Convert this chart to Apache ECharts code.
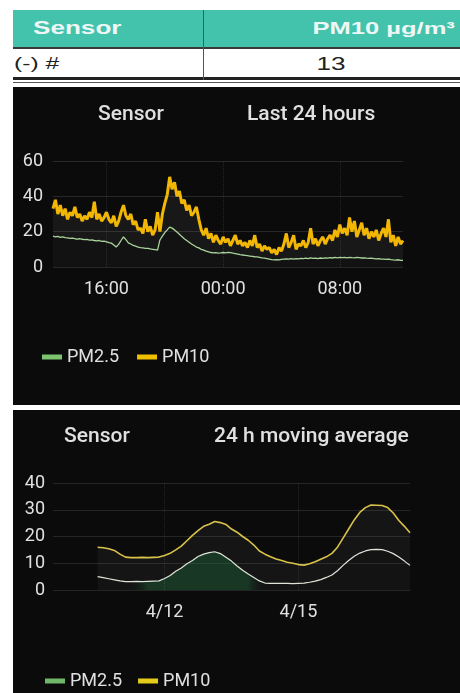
<!DOCTYPE html>
<html><head><meta charset="utf-8">
<script src="https://cdn.jsdelivr.net/npm/echarts@6.0.0/dist/echarts.min.js"></script>
<style>
html,body{margin:0;padding:0;background:#fff;width:460px;height:693px;overflow:hidden;font-family:"Liberation Sans",Arial,sans-serif}
.abs{position:absolute}
.sx{display:inline-block;transform:scaleX(1.45);}
#hdr{left:13px;top:10px;width:447px;height:37px;background:#43c2ac;border-bottom:2px solid #3a3a3a}
#hdr .l{position:absolute;left:20px;top:0;line-height:37px;font-size:18px;font-weight:bold;color:#eef7f5}
#hdr .l .sx{transform-origin:left center}
#hdr .r{position:absolute;right:5px;top:0;line-height:37px;font-size:17px;font-weight:bold;color:#eef7f5}
#hdr .r .sx{transform-origin:right center;transform:scaleX(1.5)}
#row{left:13px;top:49px;width:447px;height:28px;background:#fff;border-bottom:3px solid #222}
#row .l{position:absolute;left:1px;top:0;line-height:30px;font-size:17px;color:#222}
#row .l .sx{transform-origin:left center}
#row .r{position:absolute;left:190px;width:257px;text-align:center;top:0;line-height:30px;font-size:18px;color:#222}
#line2{left:13px;top:82px;width:447px;height:1px;background:#555}
#vdiv{left:203px;top:10px;width:1px;height:70px;background:#555}
#p1{left:13px;top:87px;width:447px;height:318px;background:#0b0b0b}
#p2{left:13px;top:410px;width:447px;height:283px;background:#0b0b0b}
</style></head>
<body>
<div id="hdr" class="abs"><span class="l"><span class="sx">Sensor</span></span><span class="r"><span class="sx">PM10 µg/m³</span></span></div>
<div id="row" class="abs"><span class="l"><span class="sx">(-) #</span></span><span class="r"><span class="sx">13</span></span></div>
<div id="line2" class="abs"></div>
<div id="vdiv" class="abs"></div>
<div id="p1" class="abs"></div>
<div id="p2" class="abs"></div>
<script>
// ---- Last 24 hours (hours since 00:00 of first day, 10-minute samples) ----
const dayStartHour = 12 + 20 / 60;
const dayStepHour = 1 / 6;
const dayTicks = [16, 24, 32];
const dayPM10 = [
 33,38,30,35,29,33, 27,31,29,34,28,30, 26,29,27,31,28,37, 27,30,26,28,31,27,
 25,29,23,26,31,35, 29,27,30,24,26,21, 22,19,27,20,23,18, 21,31,20,30,36,41,
 51,44,48,40,43,36, 38,32,35,29,31,34, 27,21,18,22,16,19, 14,18,15,13,17,14,
 16,12,15,18,13,15, 12,14,11,15,12,18, 11,13,9,12,10,11, 8,10,7,11,9,13,
 19,11,14,18,10,13, 12,15,11,14,22,13, 16,12,15,17,13,16, 18,15,21,17,24,19,
 22,18,28,20,26,17, 21,25,18,22,16,20, 17,21,15,19,22,17, 27,14,18,12,17,13, 15
];
const dayPM25 = [
 17.5,17,17.3,16.8,17,16.6, 16.5,16.2,16.4,16,15.8,16, 15.7,15.5,15.6,15.2,15.3,15, 14.8,15,14.5,14.6,14.2,13.8,
 13.5,12.5,11.3,12.8,15,17, 15.5,13.7,13,12.2,11.8,11.3, 11,10.8,10.5,10.6,10.2,10, 9.8,9.6,15.3,17.5,19.5,21,
 22.6,22,21,19.8,18.5,17.2, 16,15,14,13,12.2,11.3, 10.8,10,9.5,9,8.6,8.2, 8,8.1,7.9,8,8.2,8,
 8.3,8.1,7.8,7.6,7.3,7, 6.8,6.6,6.4,6.2,6,5.8, 5.7,5.5,5.2,5,4.8,4.5, 4.2,4,4.1,4,4.3,4.5,
 4.6,4.4,4.7,4.5,4.8,4.6, 4.9,4.7,5,4.8,5.2,4.9, 5,4.8,5.1,4.9,5.2,5, 5.3,5.1,5.4,5.2,5.5,5.3,
 5.4,5.2,5.5,5.3,5.2,5.4, 5.3,5.1,5.2,5,4.9,5, 4.8,4.6,4.7,4.5,4.4,4.3, 4.5,4.2,4,3.9,4.1,3.8, 3.7
];
// ---- 24 h moving average (day of April, 3-hour samples) ----
const avgStartDay = 10.5;
const avgStepDay = 0.125;
const avgTicks = [12, 15];
const avgPM10 = [
 16.0,15.8,15.4,14.8,13.4,12.3,12.1,12.1,12.2,12.1,12.2,12.3,
 12.9,13.7,15.0,16.4,18.4,20.4,22.2,23.8,24.6,25.6,25.2,24.5,
 22.8,21.6,20.0,18.6,16.8,14.6,13.4,12.4,11.6,11.0,10.4,10.0,
 9.5,9.3,9.8,10.6,11.5,12.4,13.7,16.0,19.4,22.8,26.2,29.0,
 30.8,31.8,31.7,31.6,30.8,28.8,26.0,23.8,21.4
];
const avgPM25 = [
 5.0,4.6,4.2,3.8,3.4,3.1,3.1,3.2,3.1,3.2,3.3,3.4,
 4.3,5.4,7.0,8.2,9.8,11.0,12.5,13.4,14.0,14.3,13.6,12.2,
 10.8,9.0,7.4,6.0,4.7,3.4,2.6,2.5,2.5,2.5,2.5,2.4,
 2.5,2.6,2.9,3.3,3.9,4.7,5.6,7.2,9.2,11.0,12.6,13.8,
 14.6,15.1,15.2,15.1,14.5,13.6,12.3,10.8,9.2
];

function pairs(start, step, vals){ return vals.map((v,i)=>[start+i*step, v]); }
const txt = '#e0e0e0';
const font = 'Roboto';
const titleStyle = {color:txt, fontSize:21, fontWeight:500, fontFamily:font};

function vLines(ticks){
  return {silent:true, symbol:'none', label:{show:false},
    lineStyle:{color:'rgba(255,255,255,0.11)', type:'dotted', width:1},
    data: ticks.map(t=>({xAxis:t}))};
}

const c1 = echarts.init(document.getElementById('p1'));
c1.setOption({
  backgroundColor:'#0b0b0b', animation:false,
  textStyle:{fontFamily:font},
  title:[
    {text:'Sensor', left:80, top:12, textStyle:titleStyle},
    {text:'Last 24 hours', left:229, top:12, textStyle:titleStyle}
  ],
  legend:{left:24, top:256, itemWidth:20, itemHeight:5, itemGap:18, icon:'rect',
    textStyle:{color:txt, fontSize:18, fontFamily:font}, data:['PM2.5','PM10']},
  grid:{left:40, right:57, top:74, height:106},
  xAxis:{type:'value', min:dayStartHour, max:dayStartHour+24,
    axisLine:{show:false}, axisTick:{show:false}, splitLine:{show:false},
    axisLabel:{customValues:dayTicks, color:txt, fontSize:18, margin:13, fontFamily:font,
      formatter:v=>String(Math.round(v)%24).padStart(2,'0')+':00'}},
  yAxis:{type:'value', min:0, max:60, interval:20,
    axisLine:{show:false}, axisTick:{show:false},
    axisLabel:{color:txt, fontSize:18, margin:10, fontFamily:font},
    splitLine:{lineStyle:{color:'rgba(255,255,255,0.12)'}}},
  series:[
    {name:'PM10', type:'line', data:pairs(dayStartHour, dayStepHour, dayPM10), showSymbol:false, z:2,
      itemStyle:{color:'#f0c000'}, lineStyle:{color:'#f2b705', width:3},
      areaStyle:{color:'rgba(255,255,255,0.08)'}, markLine:vLines(dayTicks)},
    {name:'PM2.5', type:'line', data:pairs(dayStartHour, dayStepHour, dayPM25), showSymbol:false, z:3,
      itemStyle:{color:'#7cc46e'}, lineStyle:{color:'#a8d49a', width:1.3},
      areaStyle:{color:'rgba(0,0,0,0.3)'}}
  ]
});

const c2 = echarts.init(document.getElementById('p2'));
c2.setOption({
  backgroundColor:'#0b0b0b', animation:false,
  textStyle:{fontFamily:font},
  title:[
    {text:'Sensor', left:46, top:11, textStyle:titleStyle},
    {text:'24 h moving average', left:196, top:11, textStyle:titleStyle}
  ],
  legend:{left:27, top:257, itemWidth:20, itemHeight:5, itemGap:16, icon:'rect',
    textStyle:{color:txt, fontSize:18, fontFamily:font}, data:['PM2.5','PM10']},
  grid:{left:40, right:50, top:73, height:107},
  xAxis:{type:'value', min:9.5, max:17.5,
    axisLine:{show:false}, axisTick:{show:false}, splitLine:{show:false},
    axisLabel:{customValues:avgTicks, color:txt, fontSize:18, margin:13, fontFamily:font,
      formatter:v=>'4/'+Math.round(v)}},
  yAxis:{type:'value', min:0, max:40, interval:10,
    axisLine:{show:false}, axisTick:{show:false},
    axisLabel:{color:txt, fontSize:18, margin:8, fontFamily:font},
    splitLine:{lineStyle:{color:'rgba(255,255,255,0.11)'}}},
  series:[
    {name:'PM10', type:'line', data:pairs(avgStartDay, avgStepDay, avgPM10), showSymbol:false, z:2,
      itemStyle:{color:'#e6cc1a'}, lineStyle:{color:'#d9c24a', width:1.6},
      areaStyle:{color:'rgba(255,255,255,0.06)'}, markLine:vLines(avgTicks)},
    {name:'PM2.5', type:'line', data:pairs(avgStartDay, avgStepDay, avgPM25), showSymbol:false, z:3,
      itemStyle:{color:'#6fb86a'}, lineStyle:{color:'#dfe6d8', width:1.2},
      areaStyle:{color:new echarts.graphic.LinearGradient(0,0,1,0,[
        {offset:0, color:'rgba(0,0,0,0.15)'},{offset:0.1, color:'rgba(0,0,0,0.15)'},
        {offset:0.16, color:'rgba(30,110,60,0.55)'},{offset:0.48, color:'rgba(30,110,60,0.55)'},
        {offset:0.54, color:'rgba(0,0,0,0.15)'},{offset:1, color:'rgba(0,0,0,0.15)'}])}}
  ]
});
</script>
</body></html>
